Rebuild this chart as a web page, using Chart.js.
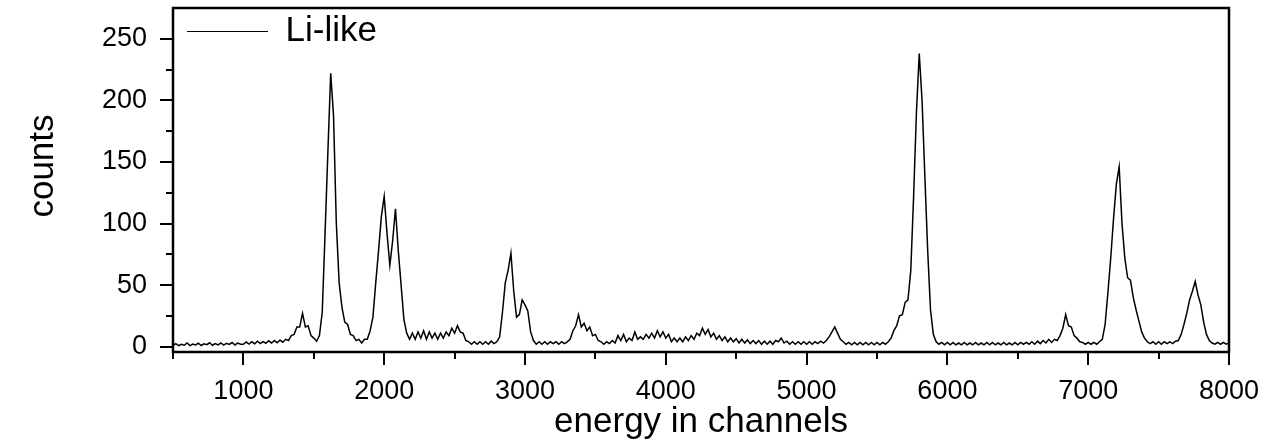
<!DOCTYPE html>
<html>
<head>
<meta charset="utf-8">
<script src="https://cdn.jsdelivr.net/npm/chart.js@4.4.1/dist/chart.umd.min.js"></script>
<style>
html,body{margin:0;padding:0;background:#fff;}
#wrap{width:1262px;height:442px;position:relative;}
</style>
</head>
<body>
<div id="wrap"><canvas id="c" width="1262" height="442"></canvas></div>
<script>
// ---- data ----
const seriesLabel = 'Li-like';
const xTitle = 'energy in channels';
const yTitle = 'counts';
const channelStart = 500;   // first channel of the counts list
const channelStep = 20;     // channel spacing of the counts list
const counts = [
  // 500 - 980
  1,2.5,0.8,2,1.2,3,0.9,2.2,1.4,2.8,1,2.4,1.6,3.2,1.2,2.6,1.5,3,1.3,2.7,1.8,3.4,1.4,2.9,2,
  // 1000 - 1480
  2,3.8,2.2,4,2.4,4.5,2.6,4.2,2.8,4.8,3,5,3.2,5.4,3.6,6,5,9,10,16,16,27,16,17,9,
  // 1500 - 1980
  7,4.5,9,28,92,158,222,188,100,52,32,20,18,10,9,5,6,3,6,6,13,24,52,78,106,
  // 2000 - 2480
  122,92,66,86,112,78,50,22,11,6,11,6,12,7,13,6,12,7,11,6,11,7,12,9,15,
  // 2500 - 2980
  11,17,12,11,5,4,2,4,2,4,2,4,2,4.5,2.5,4,8,28,52,62,76,45,24,26,38,
  // 3000 - 3480
  34,29,12,5,2,4,2,4,2,4,2.5,4,2,4,2.5,4,6,13,17,26,16,19,13,16,9,
  // 3500 - 3980
  10,5,4,2,4,2.5,5,3,9,5,10,4,7,5,12,6,8,6,10,7,11,7,13,8,12,
  // 4000 - 4480
  7,10,4,7,4,7,4,8,5,9,6,11,9,15,10,14,8,11,6,9,5,8,4,7,4,
  // 4500 - 4980
  6.5,3,6,3,5.5,2.5,5,2.5,5,2,4.5,2,4.5,2,5,4,7,3,4.5,2,4,2,4,2,4,
  // 5000 - 5480
  2,4,2,4,2.5,4.5,3,5,8,12,16,11,6,4,2,3.5,1.5,3.5,1.5,3.5,1.5,3.5,1.5,3.5,1.5,
  // 5500 - 5980
  3.5,1.5,3.5,2,4,7,13,17,25,26,36,38,62,122,190,238,200,138,78,30,10,4,2,3.5,1.5,
  // 6000 - 6480
  3.5,1.5,3.5,1.5,3,1.5,3.5,1.5,3,1.5,3.5,1.5,3,1.5,3.5,1.5,3.5,1.5,3,1.5,3.5,1.5,3,1.5,3.5,
  // 6500 - 6980
  1.5,3.5,2,3.5,2,4,2,4.5,2.5,5,3,6,3.5,6,5,9,15,26,17,16,9,7,4,3.5,2,
  // 7000 - 7480
  3.5,2,3.5,2,4,6,18,44,72,104,132,146,100,72,56,54,40,30,21,12,7,4,2.5,4,2,
  // 7500 - 7980
  4,2,4,2.5,4,2.5,4.5,5,10,18,27,38,45,53,42,34,20,10,5,3,2,3.5,2,3.5,2,
  // 8000
  3
];
const xTickValues = [1000,2000,3000,4000,5000,6000,7000,8000];
const xMinorTickValues = [500,1500,2500,3500,4500,5500,6500,7500];
const yTickValues = [0,50,100,150,200,250];
const yMinorTickValues = [25,75,125,175,225];
const xRange = [500, 8000];
const yRange = [-4.3, 275];

// ---- chart ----
const FONT = '"Liberation Sans", Arial, Helvetica, sans-serif';
const points = counts.map((v, i) => ({x: channelStart + i * channelStep, y: v}));

const framePlugin = {
  id: 'frame',
  afterDatasetsDraw(chart) {
    const {ctx, chartArea: a} = chart;
    ctx.save();
    ctx.strokeStyle = '#000';
    ctx.lineWidth = 2.5;
    ctx.strokeRect(a.left, a.top, a.right - a.left, a.bottom - a.top);
    // minor ticks
    ctx.lineWidth = 2;
    ctx.beginPath();
    const xs = chart.scales.x, ys = chart.scales.y;
    xMinorTickValues.forEach(v => {
      const px = Math.round(xs.getPixelForValue(v));
      ctx.moveTo(px, a.bottom); ctx.lineTo(px, a.bottom + 7);
    });
    yMinorTickValues.forEach(v => {
      const py = Math.round(ys.getPixelForValue(v));
      ctx.moveTo(a.left, py); ctx.lineTo(a.left - 7, py);
    });
    ctx.stroke();
    // y axis title
    ctx.fillStyle = '#000';
    ctx.font = '35px ' + FONT;
    ctx.textAlign = 'center';
    ctx.textBaseline = 'alphabetic';
    ctx.translate(53, 166);
    ctx.rotate(-Math.PI / 2);
    ctx.fillText(yTitle, 0, 0);
    ctx.restore();
  }
};

new Chart(document.getElementById('c'), {
  type: 'line',
  data: {
    datasets: [{
      label: seriesLabel,
      data: points,
      borderColor: '#000',
      backgroundColor: '#000',
      borderWidth: 1.5,
      pointRadius: 0,
      pointStyle: 'line',
      tension: 0,
      fill: false
    }]
  },
  options: {
    responsive: false,
    animation: false,
    devicePixelRatio: 1,
    layout: {padding: {left: 0, right: 33, top: 8, bottom: 0}},
    plugins: {
      legend: {
        position: 'chartArea',
        align: 'start',
        labels: {
          usePointStyle: true,
          pointStyle: 'line',
          pointStyleWidth: 81,
          padding: 14,
          color: '#000',
          font: {size: 35, family: FONT},
          generateLabels: chart => Chart.defaults.plugins.legend.labels.generateLabels(chart).map(l => Object.assign(l, {lineWidth: 1}))
        }
      },
      tooltip: {enabled: false}
    },
    scales: {
      x: {
        type: 'linear',
        min: xRange[0],
        max: xRange[1],
        afterBuildTicks: s => { s.ticks = xTickValues.map(v => ({value: v})); },
        afterFit: s => { s.height = 90; s.paddingLeft = 0; s.paddingRight = 0; },
        border: {display: false},
        grid: {display: true, drawOnChartArea: false, drawTicks: true, tickLength: 13, lineWidth: 2, color: '#000'},
        ticks: {
          autoSkip: false, maxRotation: 0, padding: 10, color: '#000',
          font: {size: 27, family: FONT},
          callback: v => String(v)
        },
        title: {
          display: true, text: xTitle, color: '#000',
          font: {size: 35, family: FONT, lineHeight: 1},
          padding: {top: 0, bottom: 2}
        }
      },
      y: {
        type: 'linear',
        min: yRange[0],
        max: yRange[1],
        afterBuildTicks: s => { s.ticks = yTickValues.map(v => ({value: v})); },
        afterFit: s => { s.width = 173; s.paddingTop = 0; s.paddingBottom = 0; },
        border: {display: false},
        grid: {display: true, drawOnChartArea: false, drawTicks: true, tickLength: 13, lineWidth: 2, color: '#000'},
        ticks: {
          autoSkip: false, padding: 13, color: '#000',
          font: {size: 27, family: FONT},
          callback: v => String(v)
        }
      }
    }
  },
  plugins: [framePlugin]
});
</script>
</body>
</html>
